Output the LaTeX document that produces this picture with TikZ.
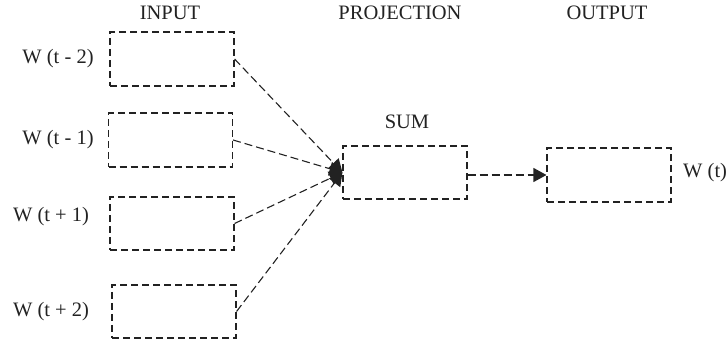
\documentclass[tikz,border=0pt]{standalone}
\usepackage{fontspec}
\setmainfont{Liberation Serif}
\usetikzlibrary{arrows.meta}
\definecolor{ink}{HTML}{222222}
\tikzset{
  unitbox/.style={draw=ink, line width=1.1pt, dash pattern=on 7pt off 4pt,
    minimum width=124pt, minimum height=54pt, inner sep=0pt},
  lbl/.style={text=ink, font=\fontsize{20.5}{22}\selectfont, inner sep=0pt},
  link/.style={draw=ink, line width=1.1pt, dash pattern=on 8pt off 4pt,
    -{Triangle[length=13pt,width=14pt,fill=ink]}, shorten >=0pt},
}
\begin{document}
\begin{tikzpicture}[x=1pt,y=-1pt]
\useasboundingbox (0,0) rectangle (726,347);
% column headings
\node[lbl] (hin) at (170,13) {INPUT};
\node[lbl] (hproj) at (400,13) {PROJECTION};
\node[lbl] (hout) at (607,13) {OUTPUT};
% input words
\node[unitbox] (in1) at (172,59) {};
\node[unitbox] (in2) at (170.5,140) {};
\node[unitbox, minimum height=53pt] (in3) at (172,223.5) {};
\node[unitbox, minimum height=53pt] (in4) at (174,311.5) {};
\node[lbl] (w1) at (58,59) {W (t - 2)};
\node[lbl] (w2) at (58,140) {W (t - 1)};
\node[lbl] (w3) at (51,217) {W (t + 1)};
\node[lbl] (w4) at (51,312) {W (t + 2)};
% projection layer
\node[unitbox, minimum height=53pt] (sum) at (405,172.5) {};
\node[lbl] (sumlbl) at (407,122) {SUM};
% output word
\node[unitbox] (out) at (609,175) {};
\node[lbl, anchor=west] (wt) at (683,173) {W (t)};
% connectors
\foreach \b in {in1,in2,in3,in4}
  \draw[link] (\b.east) -- (sum.west);
\draw[link] (sum.east |- out.west) -- (out.west);
\end{tikzpicture}
\end{document}
